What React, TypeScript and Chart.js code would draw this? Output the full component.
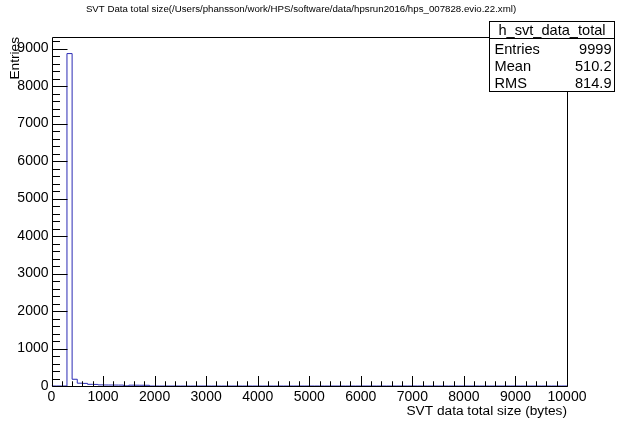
import React, { useEffect, useRef } from "react";
import { Chart, registerables } from "chart.js";

Chart.register(...registerables);

// ---- text ----
const TITLE =
  "SVT Data total size(/Users/phansson/work/HPS/software/data/hpsrun2016/hps_007828.evio.22.xml)";
const X_TITLE = "SVT data total size (bytes)";
const Y_TITLE = "Entries";
const HIST_NAME = "h_svt_data_total";
const STAT_LABELS = ["Entries", "Mean", "RMS"];
const STAT_VALUES = ["9999", "510.2", "814.9"];

// ---- binning / axes ----
const X_MIN = 0;
const X_MAX = 10000;
const BIN_WIDTH = 100;
const Y_MIN = 0;
const Y_MAX = 9307;
const X_TICK_VALUES = [0, 1000, 2000, 3000, 4000, 5000, 6000, 7000, 8000, 9000, 10000];
const Y_TICK_VALUES = [0, 1000, 2000, 3000, 4000, 5000, 6000, 7000, 8000, 9000];
const X_MAJOR_STEP = 1000;
const X_MINOR_STEP = 200;
const Y_MAJOR_STEP = 1000;
const Y_MINOR_STEP = 200;

// ---- bin contents (100 bins, 0..10000) ----
const BIN_COUNTS = [
  0, 0, 0, 8865, 180, 75, 70, 45, 42, 30,
  27, 26, 25, 24, 3, 22, 21, 20, 19, 0,
  0, 0, 0, 0, 0, 0, 0, 0, 0, 0,
  0, 0, 0, 0, 0, 0, 0, 0, 0, 0,
  0, 0, 0, 0, 0, 0, 0, 0, 0, 0,
  0, 0, 0, 0, 0, 0, 0, 0, 0, 0,
  0, 0, 0, 0, 0, 0, 0, 0, 0, 0,
  0, 0, 0, 0, 0, 0, 0, 0, 0, 0,
  0, 0, 0, 0, 0, 0, 0, 0, 0, 0,
  0, 0, 0, 0, 0, 0, 0, 0, 0, 0,
];

const FONT = "'Liberation Sans', Arial, Helvetica, sans-serif";

const rootFramePlugin = {
  id: "rootFrame",
  afterDatasetsDraw(chart: any) {
    const { ctx, chartArea: ca } = chart;
    const xs = chart.scales.x;
    const ys = chart.scales.y;
    const L = Math.round(ca.left) + 0.5;
    const R = Math.round(ca.right) + 0.5;
    const T = Math.round(ca.top) + 0.5;
    const B = Math.round(ca.bottom) + 0.5;
    ctx.save();
    ctx.strokeStyle = "#000";
    ctx.lineWidth = 1;
    ctx.beginPath();
    ctx.moveTo(L, T);
    ctx.lineTo(R, T);
    ctx.lineTo(R, B);
    ctx.lineTo(L, B);
    ctx.closePath();
    ctx.stroke();
    // x ticks (inside)
    ctx.beginPath();
    for (let v = X_MIN; v <= X_MAX + 1e-6; v += X_MINOR_STEP) {
      const px = Math.round(xs.getPixelForValue(v)) + 0.5;
      const len = v % X_MAJOR_STEP === 0 ? 10.5 : 5.25;
      ctx.moveTo(px, B);
      ctx.lineTo(px, B - len);
    }
    // y ticks (inside)
    for (let v = Y_MIN; v <= Y_MAX + 1e-6; v += Y_MINOR_STEP) {
      const py = Math.round(ys.getPixelForValue(v)) + 0.5;
      const len = v % Y_MAJOR_STEP === 0 ? 15 : 7.5;
      ctx.moveTo(L, py);
      ctx.lineTo(L + len, py);
    }
    ctx.stroke();
    ctx.restore();
  },
  afterDraw(chart: any) {
    const { ctx } = chart;
    ctx.save();
    // title
    ctx.fillStyle = "#000";
    ctx.font = `9.7px ${FONT}`;
    ctx.textAlign = "center";
    ctx.textBaseline = "middle";
    ctx.fillText(TITLE, 301, 9);

    // stats box
    const bx = 489.5, by = 21.5, bw = 125, bh = 70;
    ctx.fillStyle = "#fff";
    ctx.fillRect(bx, by, bw, bh);
    ctx.strokeStyle = "#000";
    ctx.lineWidth = 1;
    ctx.strokeRect(bx, by, bw, bh);
    ctx.beginPath();
    ctx.moveTo(bx, 38.5);
    ctx.lineTo(bx + bw, 38.5);
    ctx.stroke();
    ctx.fillStyle = "#000";
    ctx.font = `14.6px ${FONT}`;
    ctx.textAlign = "center";
    ctx.textBaseline = "middle";
    ctx.fillText(HIST_NAME, bx + bw / 2, 30.5);
    const rowsY = [49.5, 67, 84];
    STAT_LABELS.forEach((lab, i) => {
      ctx.textAlign = "left";
      ctx.fillText(lab, bx + 5, rowsY[i]);
      ctx.textAlign = "right";
      ctx.fillText(STAT_VALUES[i], bx + bw - 3, rowsY[i]);
    });
    ctx.restore();
  },
};

export default function App() {
  const ref = useRef<HTMLCanvasElement | null>(null);
  useEffect(() => {
    document.body.style.margin = "0";
    const canvas = ref.current!;
    const points = BIN_COUNTS.map((c, i) => ({ x: X_MIN + i * BIN_WIDTH, y: c }));
    points.push({ x: X_MAX, y: 0 });
    const chart = new Chart(canvas, {
      type: "line",
      data: {
        datasets: [
          {
            label: HIST_NAME,
            data: points,
            borderColor: "#2b2bb4",
            borderWidth: 1,
            pointRadius: 0,
            stepped: "before",
            fill: false,
          },
        ],
      },
      options: {
        animation: false,
        responsive: false,
        devicePixelRatio: 1,
        layout: { padding: { top: 37, right: 50, left: 0, bottom: 0 } },
        plugins: {
          legend: { display: false },
          tooltip: { enabled: false },
          title: { display: false },
        },
        scales: {
          x: {
            type: "linear",
            min: X_MIN,
            max: X_MAX,
            grid: { display: false, drawTicks: false },
            border: { display: false },
            afterBuildTicks: (s: any) => {
              s.ticks = X_TICK_VALUES.map((v) => ({ value: v }));
            },
            ticks: {
              autoSkip: false,
              maxRotation: 0,
              padding: 3,
              color: "#000",
              font: { family: FONT, size: 14 },
              callback: (v: any) => String(v),
            },
            title: {
              display: true,
              text: X_TITLE,
              align: "end",
              color: "#000",
              font: { family: FONT, size: 13.7 },
              padding: { top: 0, bottom: 3 },
            },
            afterFit: (s: any) => {
              s.height = 36;
            },
          },
          y: {
            type: "linear",
            min: Y_MIN,
            max: Y_MAX,
            grid: { display: false, drawTicks: false },
            border: { display: false },
            afterBuildTicks: (s: any) => {
              s.ticks = Y_TICK_VALUES.map((v) => ({ value: v }));
            },
            ticks: {
              autoSkip: false,
              padding: 3,
              color: "#000",
              font: { family: FONT, size: 14 },
              callback: (v: any) => String(v),
            },
            title: {
              display: true,
              text: Y_TITLE,
              align: "end",
              color: "#000",
              font: { family: FONT, size: 13.7 },
              padding: { top: 7, bottom: 0 },
            },
            afterFit: (s: any) => {
              s.width = 51.5;
            },
          },
        },
      },
      plugins: [rootFramePlugin],
    });
    return () => chart.destroy();
  }, []);
  return <canvas ref={ref} width={617} height={422} style={{ display: "block" }} />;
}
